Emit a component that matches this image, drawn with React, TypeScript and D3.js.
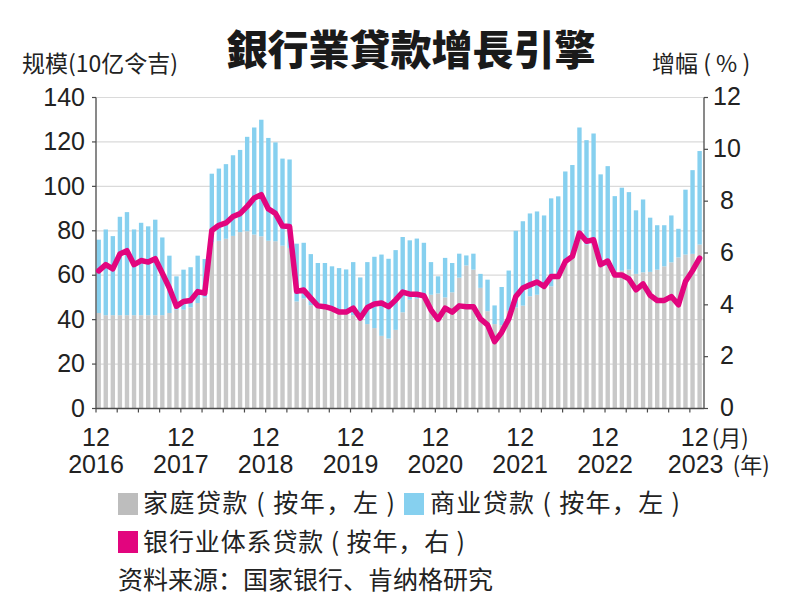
import React from "react";
import * as d3 from "d3";

// Year-on-year increase (RM bn) and banking system loan growth (%), Dec 2016 – Jan 2024
const months: Date[] = d3.timeMonth.range(new Date(2016, 11, 1), new Date(2024, 1, 1));

const household: number[] = [
  43, 42, 42, 42, 42, 42, 42, 42, 42, 42, 43, 44.5,
  44.5, 45.5, 47.5, 50, 74.6, 75.5, 76.4, 77.7, 79.4, 79.8, 78.3, 77.5,
  75.5, 75.3, 73.3, 72.3, 48.2, 49.5, 46.5, 45.2, 44.8, 44, 43.2, 42.8,
  42, 40, 38, 36.2, 32.7, 31.5, 35.4, 43.3, 49, 49.5, 49.5, 51.2,
  51.8, 50, 52.3, 58.9, 64.4, 62.5, 54.3, 43.8, 38, 37.5, 44, 45.5,
  46.3, 50.5, 51.2, 54, 55, 58.8, 66.5, 69, 77, 73.8, 73.5, 64,
  64, 62, 62, 62.5, 60.6, 61.3, 61.5, 62.5, 64, 65.8, 68, 69.3,
  69.6, 73.8,
];

const business: number[] = [
  33, 38.6, 35.6, 44.3, 46.4, 38.6, 41.6, 40, 43, 35, 25.8, 15,
  18, 18.1, 21.3, 17.3, 31.1, 32.5, 33.6, 36.3, 37, 42.5, 48.2, 52.5,
  46.3, 44.5, 39.2, 39.8, 26, 25.1, 23, 20.3, 20.7, 20, 20, 19.8,
  23.9, 19, 27.9, 32.1, 36.6, 35.9, 35.9, 33.9, 26.7, 27, 25.1, 14.7,
  7.7, 17.8, 13.2, 10.8, 4.5, 7.2, 6.3, 14.2, 8.4, 17.2, 18.1, 34.5,
  38, 37.3, 37.5, 32.9, 39.6, 36.7, 40.2, 40.6, 49.5, 47, 50.3, 41.4,
  45.1, 33.6, 37.4, 34.9, 28.6, 32.8, 24.4, 20, 18.5, 21.1, 12.9, 29.2,
  37.7, 42.1,
];

const loanGrowth: number[] = [
  5.31, 5.55, 5.39, 5.96, 6.09, 5.55, 5.71, 5.65, 5.78, 5.22, 4.65, 3.95,
  4.13, 4.17, 4.51, 4.45, 6.87, 7.07, 7.16, 7.41, 7.52, 7.8, 8.12, 8.25,
  7.7, 7.53, 7.04, 7.02, 4.52, 4.57, 4.26, 3.96, 3.93, 3.85, 3.72, 3.72,
  3.87, 3.49, 3.9, 4.03, 4.07, 3.93, 4.19, 4.49, 4.41, 4.41, 4.35, 3.81,
  3.44, 3.87, 3.72, 3.96, 3.93, 3.93, 3.46, 3.23, 2.58, 2.94, 3.46, 4.32,
  4.65, 4.77, 4.88, 4.71, 5.09, 5.09, 5.67, 5.87, 6.77, 6.45, 6.51, 5.55,
  5.69, 5.15, 5.15, 5.0, 4.58, 4.81, 4.37, 4.17, 4.17, 4.32, 4.0, 4.9,
  5.32, 5.8,
];

const leftTicks: number[] = [0, 20, 40, 60, 80, 100, 120, 140];
const rightTicks: number[] = [0, 2, 4, 6, 8, 10, 12];
const xMonthLabels: string[] = ["12", "12", "12", "12", "12", "12", "12", "12"];
const xYearLabels: string[] = ["2016", "2017", "2018", "2019", "2020", "2021", "2022", "2023"];

const title = "銀行業貸款增長引擎";
const leftTitle = "规模(10亿令吉)";
const rightTitle = "增幅 ( % )";
const legendHousehold = "家庭贷款 ( 按年，左 )";
const legendBusiness = "商业贷款 ( 按年，左 )";
const legendLine = "银行业体系贷款 ( 按年，右 )";
const source = "资料来源：国家银行、肯纳格研究";

const GRAY = "#c8c8c8";
const BLUE = "#86d0ef";
const MAGENTA = "#e2057e";
const AXIS = "#4a4a4a";
const GRID = "#dadada";
const LATIN = "'Liberation Sans', Arial, sans-serif";
const CJK = "'Noto Sans CJK SC', sans-serif";
const CJK_TC = "'Noto Sans CJK TC', sans-serif";

export default function App() {
  const W = 787, H = 607;
  const left = 96, right = 704, top = 97.5, bottom = 408.5;

  const idx = months.map((_, i) => i);
  const x = d3.scaleBand<number>().domain(idx).range([left, right]).padding(0);
  const bw = x.step() * 0.62;
  const yL = d3.scaleLinear().domain([0, 140]).range([bottom, top]);
  const yR = d3.scaleLinear().domain([0, 12]).range([bottom, top]);

  const rows = idx.map((i) => ({ i, household: household[i], business: business[i] }));
  const stack = d3.stack<any>().keys(["household", "business"])(rows);
  const colors = [GRAY, BLUE];

  const line = d3
    .line<number>()
    .x((_, i) => (x(i) as number) + 0.5 + bw / 2)
    .y((d) => yR(d));

  const quarterTicks = idx.filter((i) => i % 3 === 0);
  const yearTicks = idx.filter((i) => i % 12 === 0);
  const lastK = yearTicks.length - 1;

  return (
    <svg width={W} height={H} style={{ position: "absolute", left: 0, top: 0, background: "#fff" }}>
      <rect width={W} height={H} fill="#fff" />
      {/* grid */}
      {leftTicks.filter((v) => v > 0).map((v) => (
        <line key={"g" + v} x1={left} x2={right} y1={yL(v)} y2={yL(v)} stroke={GRID} strokeWidth={1.2} />
      ))}
      {/* bars */}
      {stack.map((s, k) => (
        <g key={"s" + k} fill={colors[k]}>
          {s.map((d, i) => (
            <rect key={i} x={(x(i) as number) + 0.5} width={bw} y={yL(d[1])} height={yL(d[0]) - yL(d[1])} />
          ))}
        </g>
      ))}
      {/* axes */}
      <line x1={left} x2={left} y1={top} y2={bottom} stroke={AXIS} strokeWidth={1.3} />
      <line x1={right} x2={right} y1={top} y2={bottom} stroke={AXIS} strokeWidth={1.3} />
      <line x1={left} x2={right} y1={bottom} y2={bottom} stroke={AXIS} strokeWidth={1.3} />
      {leftTicks.map((v) => (
        <g key={"l" + v}>
          <line x1={left - 4} x2={left} y1={yL(v)} y2={yL(v)} stroke={AXIS} strokeWidth={1.2} />
          <text x={85} y={yL(v)} dy="0.33em" textAnchor="end" fontFamily={LATIN} fontSize={25} fill="#222">
            {v}
          </text>
        </g>
      ))}
      {rightTicks.map((v) => (
        <g key={"r" + v}>
          <line x1={right} x2={right + 4} y1={yR(v)} y2={yR(v)} stroke={AXIS} strokeWidth={1.2} />
          <text x={727} y={yR(v)} dy="0.31em" textAnchor="middle" fontFamily={LATIN} fontSize={25} fill="#222">
            {v}
          </text>
        </g>
      ))}
      {quarterTicks.map((i) => (
        <line key={"q" + i} x1={x(i)} x2={x(i)} y1={bottom} y2={bottom + 4} stroke={AXIS} strokeWidth={1.2} />
      ))}
      {yearTicks.map((i, k) =>
        k < lastK ? (
          <text key={"y" + i} fontFamily={LATIN} fontSize={25} fill="#222" textAnchor="middle">
            <tspan x={x(i)} y={446}>{xMonthLabels[k]}</tspan>
            <tspan x={x(i)} y={473}>{xYearLabels[k]}</tspan>
          </text>
        ) : (
          <text key={"y" + i} fontFamily={LATIN} fontSize={25} fill="#222">
            <tspan x={(x(i) as number) - 9} y={446}>{xMonthLabels[k]}</tspan>
            <tspan x={(x(i) as number) + 22} y={446} fontFamily={CJK} fontSize={22}>(月)</tspan>
            <tspan x={(x(i) as number) - 22} y={473}>{xYearLabels[k]}</tspan>
            <tspan x={(x(i) as number) + 43} y={473} fontFamily={CJK} fontSize={22}>(年)</tspan>
          </text>
        )
      )}
      {/* line */}
      <path d={line(loanGrowth) || ""} fill="none" stroke={MAGENTA} strokeWidth={5.5} strokeLinejoin="round" strokeLinecap="round" />
      {/* titles */}
      <text x={411} y={65} textAnchor="middle" fontFamily={CJK_TC} fontWeight={900} fontSize={41} fill="#1a1a1a">
        {title}
      </text>
      <text x={22} y={72} fontFamily={CJK} fontSize={23} fill="#222">{leftTitle}</text>
      <text x={652} y={72} fontFamily={CJK} fontSize={23} fill="#222">{rightTitle}</text>
      {/* legend */}
      <rect x={118} y={493} width={20} height={22} fill="#bdbdbd" />
      <text x={143} y={512} fontFamily={CJK} fontSize={25} fill="#222" textLength={252} lengthAdjust="spacing">{legendHousehold}</text>
      <rect x={404} y={493} width={20} height={22} fill={BLUE} />
      <text x={430} y={512} fontFamily={CJK} fontSize={25} fill="#222" textLength={250} lengthAdjust="spacing">{legendBusiness}</text>
      <rect x={118} y={531} width={20} height={22} fill={MAGENTA} />
      <text x={143} y={551} fontFamily={CJK} fontSize={25} fill="#222" textLength={322} lengthAdjust="spacing">{legendLine}</text>
      <text x={118} y={589} fontFamily={CJK} fontSize={25} fill="#222">{source}</text>
    </svg>
  );
}
